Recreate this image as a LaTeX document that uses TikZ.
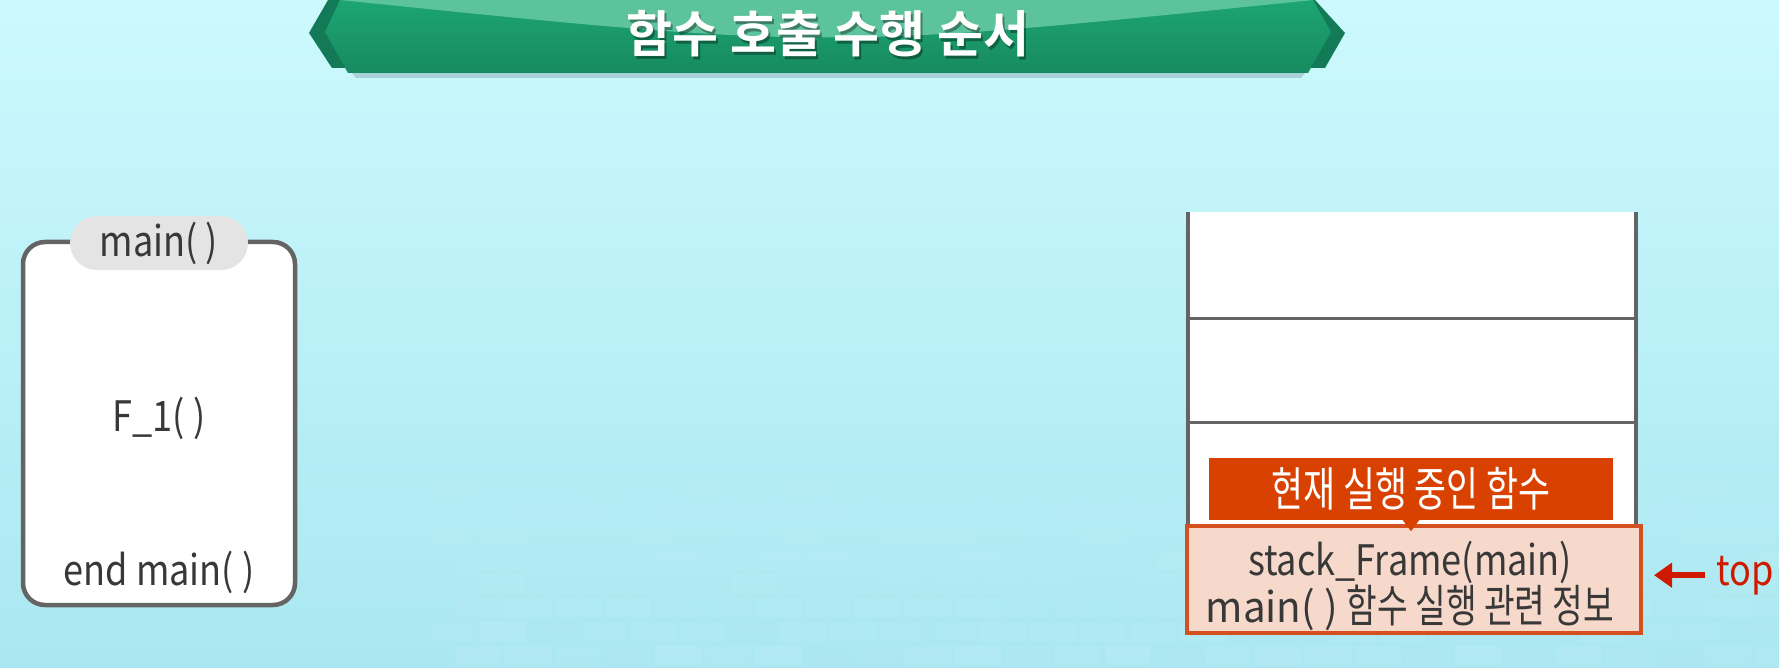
\documentclass[tikz,border=0pt]{standalone}
\usepackage{fontspec}
\setmainfont{Noto Sans CJK KR}[FakeStretch=0.86]
\newfontfamily\hfont{Noto Sans CJK KR}[FakeStretch=0.74]
\newfontfamily\lfont{Noto Sans CJK KR}[FakeStretch=0.96]
\newfontfamily\titlefont{Noto Sans CJK KR}[UprightFont=* Bold]
\usetikzlibrary{arrows.meta,calc}
\definecolor{bgtop}{HTML}{CCF9FD}
\definecolor{bgmid}{HTML}{C4F5FA}
\definecolor{bgbot}{HTML}{AAE7F1}
\definecolor{bandark}{HTML}{137A58}
\definecolor{bantop}{HTML}{1DA574}
\definecolor{banbot}{HTML}{178A60}
\definecolor{banhi}{HTML}{5DC39D}
\definecolor{linegray}{HTML}{646464}
\definecolor{txtgray}{HTML}{383838}
\definecolor{pillgray}{HTML}{E4E4E4}
\definecolor{framefill}{HTML}{F7D9CC}
\definecolor{framedraw}{HTML}{D4501F}
\definecolor{curfill}{HTML}{D94100}
\definecolor{topred}{HTML}{D01A00}
\begin{document}
\begin{tikzpicture}[x=1pt,y=-1pt,
  bodytext/.style={font=\fontsize{42}{47}\selectfont, text=txtgray, inner sep=0pt},
  mainbox/.style={draw=linegray, line width=4.5pt, fill=white, rounded corners=22pt,
    minimum width=272pt, minimum height=363pt, inner sep=0pt},
  pill/.style={bodytext, fill=pillgray, rounded corners=27pt,
    minimum width=178pt, minimum height=54pt},
  wall/.style={draw=linegray, line width=4pt},
  cellline/.style={draw=linegray, line width=3pt},
  stackbg/.style={fill=white, minimum width=448pt, minimum height=421pt, inner sep=0pt, anchor=north west},
  framebox/.style={draw=framedraw, fill=framefill, line width=4pt,
    minimum width=454pt, minimum height=107pt, inner sep=0pt},
  frametext/.style={font=\fontsize{42}{43}\selectfont, text=txtgray, inner sep=0pt, align=center},
  curbox/.style={font=\hfont\fontsize{47}{50}\selectfont, text=white, fill=curfill,
    minimum width=404pt, minimum height=62pt, inner sep=0pt},
  toptext/.style={font=\fontsize{42}{47}\selectfont, text=topred, inner sep=0pt},
  toparrow/.style={draw=topred, line width=6pt, -{Triangle[length=18pt,width=24pt]}},
  titletext/.style={font=\titlefont\fontsize{50}{56}\selectfont, text=white, inner sep=0pt},
  titleshadow/.style={font=\titlefont\fontsize{50}{56}\selectfont, text=black, text opacity=0.35, inner sep=0pt}
]
\useasboundingbox (0,0) rectangle (1779,668);
% background
\shade[top color=bgtop, middle color=bgmid, bottom color=bgbot] (0,0) rectangle (1779,668);
\pgfmathsetseed{7}
\foreach \r in {0,...,7}{
  \foreach \c in {0,...,28}{
    \pgfmathsetmacro{\bx}{430+\c*50+mod(\r,2)*25}
    \pgfmathsetmacro{\by}{478+\r*24}
    \pgfmathsetmacro{\op}{(0.02+0.06*rnd)*(0.4+\r/10)}
    \fill[white, fill opacity=\op] (\bx,\by) rectangle ++(46,20);
  }
}
% banner
\fill[bandark] (328,0) -- (309,33) -- (332,68) -- (1325,68) -- (1345,33) -- (1315,0) -- cycle;
\fill[black, opacity=0.15] (352,73) -- (1305,73) -- (1301,78) -- (356,78) -- cycle;
\shade[top color=bantop, bottom color=banbot] (340,0) -- (325,32) -- (348,73) -- (1308,73) -- (1331,32) -- (1313,0) -- cycle;
\begin{scope}
  \clip (340,0) -- (325,32) -- (348,73) -- (1308,73) -- (1331,32) -- (1313,0) -- cycle;
  \fill[banhi] (320,-2) -- (320,0) -- (340,0) .. controls (827,50) .. (1313,0) -- (1340,0) -- (1340,-2) -- cycle;
\end{scope}
\node[titleshadow] (titlesh) at (830,37) {함수 호출 수행 순서};
\node[titletext] (title) at (828,34) {함수 호출 수행 순서};
% main() box
\node[mainbox] (mainb) at (159,423.5) {};
\node[pill] (pill) at (159,243) {main( )};
\node[bodytext] (f1) at (159,418) {F\_1( )};
\node[bodytext] (endm) at (159,572) {end main( )};
% stack
\node[stackbg] (stack) at (1188,212) {};
\coordinate (l1) at (1188,318); \coordinate (r1) at (1636,318);
\coordinate (l2) at (1188,422); \coordinate (r2) at (1636,422);
\draw[cellline] (l1) -- (r1);
\draw[cellline] (l2) -- (r2);
\draw[wall] (stack.north west) -- (stack.south west);
\draw[wall] (stack.north east) -- (stack.south east);
\node[framebox] (frame) at (1414,579.5) {};
\node[frametext] (ftext) at (1410,586) {stack\_Frame(main)\\{\lfont main( ) }{\hfont\fontsize{45}{43}\selectfont 함수 실행 관련 정보}};
\node[curbox] (cur) at (1411,489) {현재 실행 중인 함수};
\fill[curfill] ($(cur.south)+(-9,-1)$) -- ($(cur.south)+(9,-1)$) -- ($(cur.south)+(0,11)$) -- cycle;
% top
\node[toptext, anchor=base west] (top) at (1716,585) {top};
\draw[toparrow] ([xshift=-11pt]top.west) -- ([xshift=11pt]frame.east |- top.west);
\end{tikzpicture}
\end{document}
